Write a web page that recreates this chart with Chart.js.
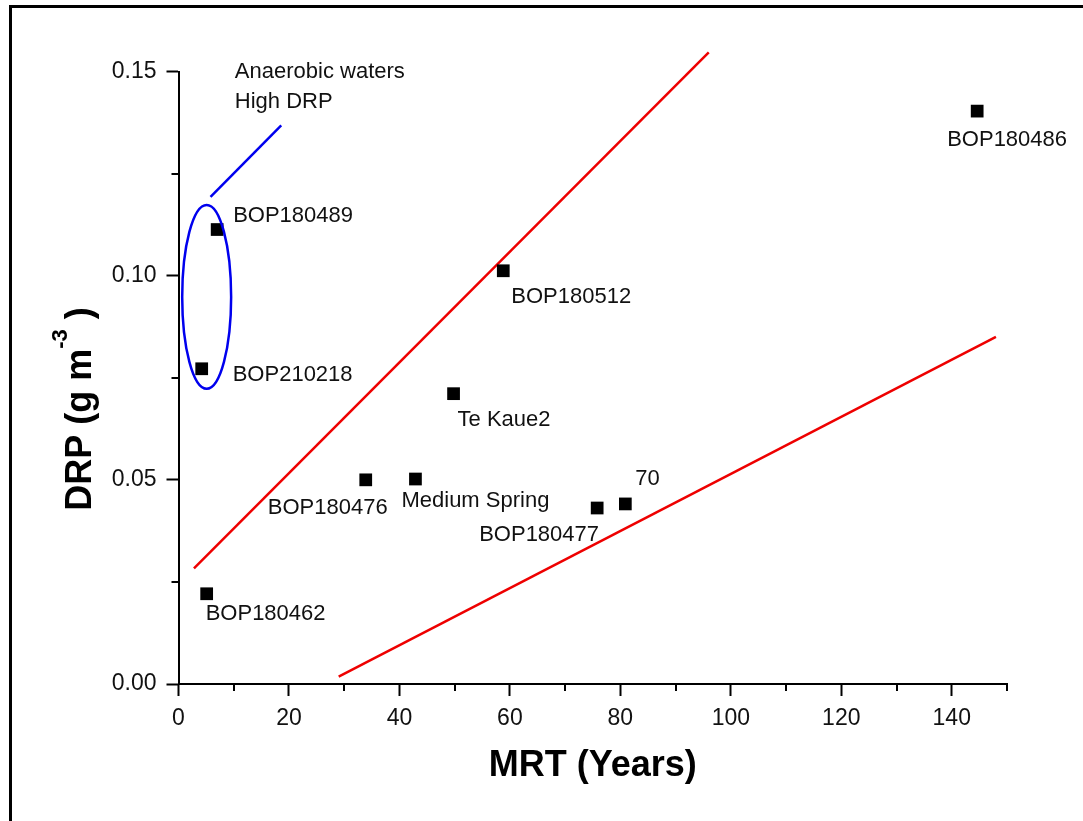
<!DOCTYPE html>
<html>
<head>
<meta charset="utf-8">
<script src="https://cdn.jsdelivr.net/npm/chart.js@4.4.1/dist/chart.umd.min.js"></script>
<style>
    html, body { margin: 0; padding: 0; background: #fff; }
    body { width: 1083px; height: 821px; position: relative; overflow: hidden; }
    .frame { position: absolute; left: 9px; top: 5px; width: 1200px; height: 900px; border-top: 3px solid #000; border-left: 3px solid #000; }
    #chart { position: absolute; left: 0; top: 0; }
</style>
</head>
<body>
<div class="frame"></div>
<canvas id="chart" width="1083" height="821"></canvas>
<script>
const FONT = "'Liberation Sans', Arial, sans-serif";

// samples (MRT in years, DRP in g m-3)
const sampleNames = ['BOP180486', 'BOP180489', 'BOP180512', 'BOP210218', 'Te Kaue2', 'BOP180476', 'Medium Spring', 'BOP180477', '70', 'BOP180462'];
const mrtYears = [144.6, 7.0, 58.8, 4.2, 49.8, 33.9, 42.9, 75.8, 80.9, 5.1];
const drpValues = [0.1403, 0.1113, 0.1012, 0.0772, 0.0711, 0.0500, 0.0502, 0.0431, 0.0441, 0.0221];

// red envelope lines
const upperLineX = [2.8, 96.0];
const upperLineY = [0.0283, 0.1547];
const lowerLineX = [29.0, 148.0];
const lowerLineY = [0.0018, 0.0850];

// blue callout: ellipse round the anaerobic samples + pointer line
const ellipseCenter = [5.1, 0.0948];
const ellipseRadii = [4.43, 0.0225];
const calloutX = [5.8, 18.6];
const calloutY = [0.1193, 0.1368];
const calloutText = ['Anaerobic waters', 'High DRP'];
const calloutAnchor = [10.2, 0.1498];

// axes
const xMajorTicks = [0, 20, 40, 60, 80, 100, 120, 140];
const xMinorTicks = [10, 30, 50, 70, 90, 110, 130, 150];
const yMajorTicks = [0, 0.05, 0.10, 0.15];
const yMajorLabels = ['0.00', '0.05', '0.10', '0.15'];
const yMinorTicks = [0.025, 0.075, 0.125];

// label placement next to each marker (px)
const labelOffsets = [[-30, 29], [16, -14], [8, 26], [31, 6], [4, 26], [-98, 28], [-14, 22], [-118, 27], [10, -25], [-1, 20]];

const toPoints = (xs, ys) => xs.map((x, i) => ({ x: x, y: ys[i] }));

const annotationsPlugin = {
    id: 'annotations',
    afterDatasetsDraw(chart) {
        const { ctx, scales: { x, y } } = chart;

        // ellipse
        const cx = x.getPixelForValue(ellipseCenter[0]);
        const cy = y.getPixelForValue(ellipseCenter[1]);
        const rx = Math.abs(x.getPixelForValue(ellipseCenter[0] + ellipseRadii[0]) - cx);
        const ry = Math.abs(y.getPixelForValue(ellipseCenter[1] + ellipseRadii[1]) - cy);
        ctx.save();
        ctx.strokeStyle = '#0000ee';
        ctx.lineWidth = 2.5;
        ctx.beginPath();
        ctx.ellipse(cx, cy, rx, ry, 0, 0, Math.PI * 2);
        ctx.stroke();

        // callout text
        ctx.fillStyle = '#111';
        ctx.textAlign = 'left';
        ctx.textBaseline = 'middle';
        ctx.font = `22px ${FONT}`;
        const ax = x.getPixelForValue(calloutAnchor[0]);
        const ay = y.getPixelForValue(calloutAnchor[1]);
        calloutText.forEach((t, i) => ctx.fillText(t, ax, ay + i * 30));

        // sample labels
        const meta = chart.getDatasetMeta(0);
        meta.data.forEach((pt, i) => {
            const [dx, dy] = labelOffsets[i];
            ctx.fillText(sampleNames[i], pt.x + dx, pt.y + dy);
        });
        ctx.restore();
    },
    afterDraw(chart) {
        const { ctx, chartArea, scales: { x, y } } = chart;
        ctx.save();

        // minor ticks
        ctx.strokeStyle = '#000';
        ctx.lineWidth = 2;
        ctx.beginPath();
        xMinorTicks.forEach(v => {
            const px = Math.round(x.getPixelForValue(v));
            ctx.moveTo(px, chartArea.bottom);
            ctx.lineTo(px, chartArea.bottom + 7);
        });
        yMinorTicks.forEach(v => {
            const py = Math.round(y.getPixelForValue(v));
            ctx.moveTo(chartArea.left - 7, py);
            ctx.lineTo(chartArea.left, py);
        });
        ctx.stroke();

        // y title with superscript
        const main = 'DRP (g m';
        const sup = '-3';
        const tail = ' )';
        ctx.fillStyle = '#000';
        ctx.textBaseline = 'alphabetic';
        ctx.textAlign = 'left';
        ctx.font = `bold 36px ${FONT}`;
        const wMain = ctx.measureText(main).width;
        const wTail = ctx.measureText(tail).width;
        ctx.font = `bold 22px ${FONT}`;
        const wSup = ctx.measureText(sup).width;
        const total = wMain + wSup + wTail;
        ctx.translate(91, 409);
        ctx.rotate(-Math.PI / 2);
        let cursor = -total / 2;
        ctx.font = `bold 36px ${FONT}`;
        ctx.fillText(main, cursor, 0);
        cursor += wMain;
        ctx.font = `bold 22px ${FONT}`;
        ctx.fillText(sup, cursor, -24);
        cursor += wSup;
        ctx.font = `bold 36px ${FONT}`;
        ctx.fillText(tail, cursor, 0);
        ctx.restore();
    }
};

const isIn = (list, v) => list.some(m => Math.abs(m - v) < 1e-9);

new Chart(document.getElementById('chart').getContext('2d'), {
    type: 'scatter',
    data: {
        datasets: [
            {
                label: 'Samples',
                data: toPoints(mrtYears, drpValues),
                pointStyle: 'rect',
                pointRadius: 9,
                pointBackgroundColor: '#000',
                pointBorderWidth: 0,
                clip: false
            },
            {
                label: 'Upper',
                data: toPoints(upperLineX, upperLineY),
                showLine: true,
                borderColor: '#ee0000',
                borderWidth: 2.5,
                pointRadius: 0,
                clip: false
            },
            {
                label: 'Lower',
                data: toPoints(lowerLineX, lowerLineY),
                showLine: true,
                borderColor: '#ee0000',
                borderWidth: 2.5,
                pointRadius: 0,
                clip: false
            },
            {
                label: 'Callout',
                data: toPoints(calloutX, calloutY),
                showLine: true,
                borderColor: '#0000ee',
                borderWidth: 2.5,
                pointRadius: 0,
                clip: false
            }
        ]
    },
    options: {
        responsive: false,
        animation: false,
        devicePixelRatio: 1,
        layout: { padding: { left: 0, top: 71.5, right: 76, bottom: 0 } },
        plugins: {
            legend: { display: false },
            tooltip: { enabled: false }
        },
        scales: {
            x: {
                type: 'linear',
                min: 0,
                max: 150,
                afterBuildTicks: (scale) => {
                    scale.ticks = [...xMajorTicks, ...xMinorTicks].sort((a, b) => a - b).map(v => ({ value: v }));
                },
                afterFit: (scale) => { scale.height = 137; },
                border: { display: true, color: '#000', width: 2 },
                grid: {
                    drawOnChartArea: false,
                    drawTicks: true,
                    tickLength: 12,
                    tickWidth: 2,
                    tickColor: (ctx) => isIn(xMajorTicks, ctx.tick.value) ? '#000' : 'rgba(0,0,0,0)'
                },
                ticks: {
                    autoSkip: false,
                    maxRotation: 0,
                    padding: 9,
                    color: '#111',
                    font: { family: FONT, size: 23 },
                    callback: (value) => isIn(xMajorTicks, value) ? String(value) : ''
                },
                title: {
                    display: true,
                    text: 'MRT (Years)',
                    color: '#000',
                    font: { family: FONT, size: 36, weight: 'bold' },
                    padding: { top: 0, bottom: 33 }
                }
            },
            y: {
                type: 'linear',
                min: 0,
                max: 0.15,
                afterBuildTicks: (scale) => {
                    scale.ticks = [...yMajorTicks, ...yMinorTicks].sort((a, b) => a - b).map(v => ({ value: v }));
                },
                afterFit: (scale) => { scale.width = 178.5; },
                border: { display: true, color: '#000', width: 2 },
                grid: {
                    drawOnChartArea: false,
                    drawTicks: true,
                    tickLength: 12,
                    tickWidth: 2,
                    tickColor: (ctx) => isIn(yMajorTicks, ctx.tick.value) ? '#000' : 'rgba(0,0,0,0)'
                },
                ticks: {
                    autoSkip: false,
                    padding: 10,
                    color: '#111',
                    font: { family: FONT, size: 23 },
                    callback: (value) => {
                        const idx = yMajorTicks.findIndex(m => Math.abs(m - value) < 1e-9);
                        return idx >= 0 ? yMajorLabels[idx] : '';
                    }
                }
            }
        }
    },
    plugins: [annotationsPlugin]
});
</script>
</body>
</html>
